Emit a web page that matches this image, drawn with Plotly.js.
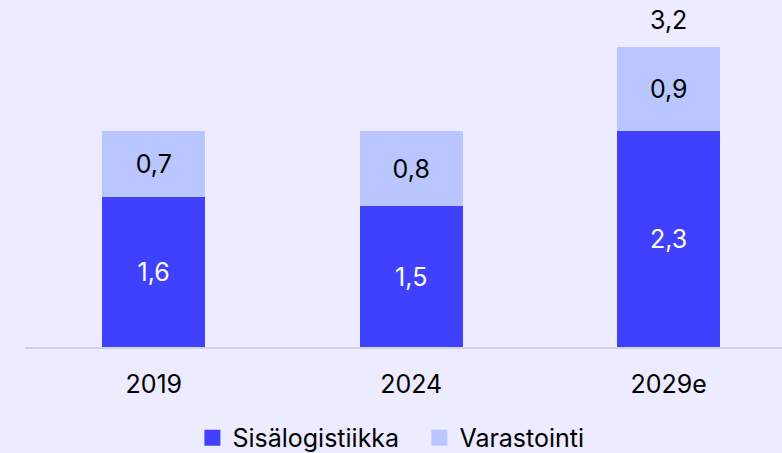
<!DOCTYPE html>
<html>
<head>
<meta charset="utf-8">
<script src="https://cdn.plot.ly/plotly-3.0.1.min.js"></script>
<style>html,body{margin:0;padding:0;background:#ECEBFF;}</style>
</head>
<body>
<div id="chart" style="width:782px;height:453px;"></div>
<script>
const categories = ["2019", "2024", "2029e"];
const seriesNames = ["Sisälogistiikka", "Varastointi"];
const sisalogistiikka = [1.6, 1.5, 2.3];
const varastointi = [0.7, 0.8, 0.9];
const totals = [2.3, 2.3, 3.2];
const colors = ["#4040FF", "#BAC6FF"];

const FONT = "Inter, Roboto, 'Liberation Sans', sans-serif";
const FS = 25;

const traces = [
  {
    type: "bar", name: seriesNames[0], x: categories, y: sisalogistiikka,
    marker: {color: colors[0], line: {width: 0}}, showlegend: false,
    texttemplate: "%{y:.1f}", textposition: "inside", insidetextanchor: "middle",
    textfont: {family: FONT, size: FS, color: "#FFFFFF"}, hoverinfo: "skip"
  },
  {
    type: "bar", name: seriesNames[1], x: categories, y: varastointi,
    marker: {color: colors[1], line: {width: 0}}, showlegend: false,
    texttemplate: "%{y:.1f}", textposition: "inside", insidetextanchor: "middle",
    textfont: {family: FONT, size: FS, color: "#000000"}, hoverinfo: "skip"
  },
  {
    type: "scatter", mode: "markers", name: seriesNames[0], x: [null], y: [null],
    marker: {symbol: "square", size: 16, color: colors[0]}, showlegend: true, hoverinfo: "skip"
  },
  {
    type: "scatter", mode: "markers", name: seriesNames[1], x: [null], y: [null],
    marker: {symbol: "square", size: 16, color: colors[1]}, showlegend: true, hoverinfo: "skip"
  }
];

const annotations = categories.map((c, i) => ({
  x: c, y: totals[i], xref: "x", yref: "y",
  text: totals[i].toFixed(1).replace(".", ","),
  showarrow: false, yanchor: "middle", yshift: 27,
  font: {family: FONT, size: FS, color: "#000000"}
}));

const layout = {
  width: 782, height: 453,
  paper_bgcolor: "#ECEBFF", plot_bgcolor: "#ECEBFF",
  margin: {l: 25, r: 0, t: 10, b: 106, autoexpand: false},
  separators: ", ",
  barmode: "stack", bargap: 0.6,
  font: {family: FONT, size: FS, color: "#000000"},
  xaxis: {
    type: "category", range: [-0.5, 2.44], categoryarray: categories,
    showline: true, linecolor: "#D2D2DE", linewidth: 2,
    ticks: "", showgrid: false, zeroline: false,
    tickfont: {family: FONT, size: FS, color: "#000000"},
    ticklabelstandoff: 14
  },
  yaxis: {range: [0, 3.59], visible: false, showgrid: false, zeroline: false},
  showlegend: true,
  legend: {
    orientation: "h", x: 0.521, xanchor: "center",
    yref: "paper", y: -0.27, yanchor: "middle",
    font: {family: FONT, size: FS, color: "#000000"},
    itemsizing: "trace", traceorder: "normal", itemwidth: 30,
    entrywidth: 182, entrywidthmode: "pixels",
    bgcolor: "rgba(0,0,0,0)"
  },
  annotations: annotations
};

Plotly.newPlot("chart", traces, layout, {displayModeBar: false, staticPlot: true});
</script>
</body>
</html>
